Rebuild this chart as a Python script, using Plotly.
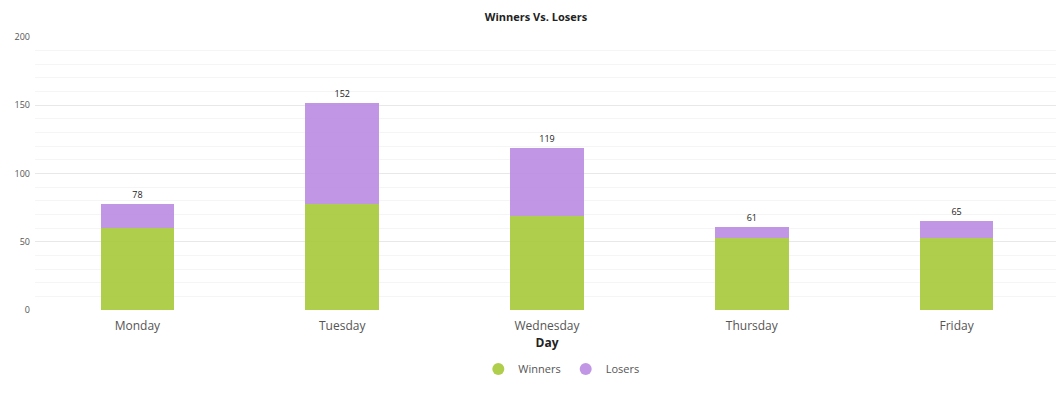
import plotly.graph_objects as go

days = ["Monday", "Tuesday", "Wednesday", "Thursday", "Friday"]
winners = [60, 78, 69, 53, 53]
losers = [18, 74, 50, 8, 12]
totals = [w + l for w, l in zip(winners, losers)]

green = "rgba(166,201,56,0.9)"
purple = "rgba(186,140,226,0.9)"

W, H = 1056, 387

fig = go.Figure()
fig.add_trace(go.Bar(x=days, y=winners, name="Winners", marker_color=green,
                     marker_line_width=0, showlegend=False, hoverinfo="y"))
fig.add_trace(go.Bar(x=days, y=losers, name="Losers", marker_color=purple,
                     marker_line_width=0, showlegend=False,
                     text=[str(t) for t in totals],
                     textposition="outside", cliponaxis=False,
                     textfont=dict(size=9, color="#222"), hoverinfo="y"))
# legend entries with circle markers
fig.add_trace(go.Scatter(x=[None], y=[None], mode="markers", name="Winners",
                         marker=dict(symbol="circle", size=12, color=green)))
fig.add_trace(go.Scatter(x=[None], y=[None], mode="markers", name="Losers",
                         marker=dict(symbol="circle", size=12, color=purple)))

fig.update_layout(
    width=W, height=H,
    barmode="stack", bargap=0.64,
    plot_bgcolor="white", paper_bgcolor="white",
    font=dict(family="Open Sans", color="#555"),
    margin=dict(l=27, r=5, t=29, b=85, autoexpand=False),
    title=dict(text="<b>Winners Vs. Losers</b>", x=0.5, xref="container",
               y=1 - 9 / H, yref="container", yanchor="middle",
               font=dict(size=11, color="#222")),
    legend=dict(orientation="h", x=0.514, xanchor="center",
                y=1 - 361 / H, yref="container", yanchor="middle",
                traceorder="normal",
                font=dict(size=11, color="#555"), itemwidth=30),
    xaxis=dict(title=dict(text="<b>Day</b>", font=dict(size=12, color="#222"), standoff=4),
               tickfont=dict(size=12, color="#555"), showgrid=False,
               showline=False, ticks="", automargin=False, ticklabelstandoff=7),
    yaxis=dict(range=[0, 200], dtick=50, tickfont=dict(size=9, color="#555"),
               gridcolor="#e8e8e8", gridwidth=1, zeroline=False, showline=False,
               minor=dict(dtick=10, showgrid=True, gridcolor="#f5f5f5"),
               ticklabelstandoff=4, automargin=False),
)

fig.write_html("out.html")
